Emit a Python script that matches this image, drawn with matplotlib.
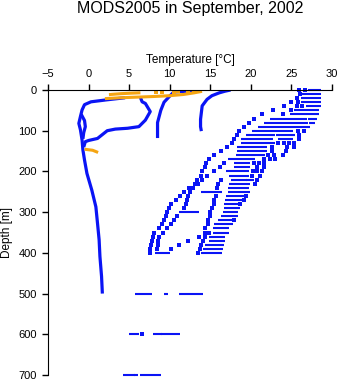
import numpy as np
import matplotlib
matplotlib.use('Agg')
import matplotlib.pyplot as plt

plt.rcParams['font.family'] = ['Liberation Sans', 'DejaVu Sans']

BLUE = '#0a14f5'
ORANGE = '#f5a512'

# continuous cold profiles (temperature degC, depth m)
p1_t = [4.5, 2.3, 0.3, -0.5, -0.8, -1.0, -1.2, -1.0, -0.8, -0.7, -0.5, -0.2, 0.4, 0.9, 1.1, 1.3, 1.4, 1.6, 1.7]
p1_d = [19, 24, 29, 36, 49, 65, 82, 98, 123, 147, 172, 205, 246, 287, 327, 368, 409, 458, 500]
p1b_t = [-0.9, -0.5, -0.4, -0.6, -0.7]
p1b_d = [60, 75, 90, 105, 120]
p2_t = [6.4, 6.6, 7.0, 7.6, 7.0, 6.2, 4.8, 3.3, 2.3, 1.1, 0.0, -0.4, -0.6]
p2_d = [19, 29, 33, 53, 74, 90, 94, 96, 100, 119, 124, 127, 140]
p3_t = [13.5, 12.0, 10.5, 10.0, 9.3, 8.9, 8.5, 8.5, 8.5]
p3_d = [1, 3, 5, 15, 30, 50, 80, 100, 118]
p4_t = [17.5, 16.8, 16.1, 15.2, 14.6, 14.0, 13.8, 13.8, 13.9]
p4_d = [0, 3, 7, 14, 23, 39, 72, 90, 101]

# orange profiles
o1_t = [2.2, 4.0, 6.0, 8.0, 10.0, 11.7, 13.0, 13.8]
o1_d = [21, 19, 17.5, 16, 14, 11, 7, 4]
o2_t = [2.7, 4.0, 5.0, 6.2]
o2_d = [11, 9, 8, 7]
o3_t = [-0.3, 0.5, 1.0]
o3_d = [146, 148, 152]
odots_t = [8.3, 9.0, 10.5, 11.0, 12.2, 13.0, 13.6]
odots_d = [5, 6, 4, 3, 3, 4, 2]

# warm stations at standard levels: runs of close observations and single ones
warm_bars = {
    0: [(27.2, 28.5)], 10: [(26.5, 28.5)], 20: [(26.3, 28.5)], 30: [(26.3, 28.5)],
    40: [(27.0, 28.5)], 50: [(25.5, 28.3)], 60: [(25.0, 28.2)],
    70: [(22.5, 26.8), (27.2, 28.0)], 80: [(21.8, 26.9), (27.3, 27.8)],
    90: [(21.0, 25.5), (25.8, 27.2)], 100: [(20.3, 25.0)],
    110: [(19.6, 22.8), (23.3, 25.3)], 120: [(18.9, 22.6), (23.5, 25.1)],
    130: [(18.9, 22.8)], 140: [(18.5, 21.8)], 150: [(18.5, 21.8)],
    160: [(18.3, 21.6)], 170: [(17.3, 20.4)], 180: [(18.1, 19.8)],
    190: [(18.1, 19.8)], 200: [(17.1, 19.6)], 210: [(17.5, 19.6)],
    220: [(17.7, 19.4), (19.6, 20.2)], 230: [(17.5, 19.8)], 240: [(17.3, 19.6)],
    250: [(14.0, 16.3), (17.3, 19.8)], 260: [(17.1, 19.1)], 270: [(17.0, 18.7)],
    280: [(16.9, 18.5)], 290: [(16.8, 18.5)], 300: [(11.3, 13.4), (16.7, 18.3)],
    310: [(16.5, 18.3)], 320: [(16.1, 17.7)], 330: [(15.6, 17.7)],
    340: [(15.5, 17.2)], 350: [(15.5, 17.1)], 360: [(15.0, 16.7)],
    370: [(15.0, 16.7)], 380: [(14.5, 16.5)], 390: [(14.3, 16.4)],
    400: [(8.3, 9.9), (14.0, 16.3)],
    500: [(5.9, 7.7), (9.4, 9.7), (11.3, 13.9)],
    600: [(5.1, 6.1), (8.1, 8.9), (9.1, 11.1)],
    700: [(4.35, 5.6), (5.7, 6.0), (6.5, 8.8)],
}
warm_dots = {
    0: [25.9, 26.7], 10: [26.0], 20: [25.7], 30: [25.0, 25.8],
    40: [24.1, 25.7, 26.3], 50: [22.7, 24.9], 60: [21.4, 23.9], 70: [20.4],
    80: [19.8], 90: [19.1], 100: [18.6, 25.8, 26.5], 110: [18.3, 25.9],
    120: [17.9, 25.9], 130: [17.7, 23.3, 24.1, 24.7, 25.3],
    140: [17.0, 22.6, 24.4, 25.3], 150: [16.3, 22.6, 24.3],
    160: [15.4, 22.1, 22.8, 23.9], 170: [14.8, 21.6, 22.4, 23.0],
    180: [14.5, 16.7, 20.4, 21.0, 21.6], 190: [14.3, 16.2, 20.7, 21.6],
    200: [14.0, 15.4, 20.3, 20.8, 21.4], 210: [13.8, 14.6, 20.2, 21.1],
    220: [13.4, 14.0, 16.3, 20.8], 230: [13.1, 13.5, 15.9, 20.5],
    240: [12.4, 12.9, 15.8], 250: [11.7, 12.5], 260: [11.3, 12.2, 15.7, 19.4],
    270: [10.8, 12.1, 15.4, 19.1], 280: [10.2, 12.0, 15.4, 18.7],
    290: [9.9, 11.8, 15.2], 300: [9.7, 15.0], 310: [9.6, 10.9, 15.0],
    320: [9.3, 10.5, 14.7, 17.9], 330: [9.0, 10.1, 14.7], 340: [8.7, 9.7, 14.4],
    350: [8.1, 9.2, 14.3, 14.8], 360: [8.0, 8.7, 13.6, 14.3],
    370: [7.8, 8.5, 12.2, 14.1], 380: [7.7, 8.5, 11.1, 13.8],
    390: [7.6, 8.4, 10.2, 13.7], 400: [7.6, 13.5], 600: [6.6],
}

fig = plt.figure(figsize=(3.41, 3.84), dpi=100)
ax = fig.add_axes([48 / 341, 9 / 384, 284 / 341, 285 / 384])

for d, runs in warm_bars.items():
    for t0, t1 in runs:
        ax.hlines(d, t0 - 0.15, t1 + 0.15, color=BLUE, lw=1.5, clip_on=False)
for d, ts in warm_dots.items():
    ax.plot(ts, [d] * len(ts), 's', color=BLUE, ms=2.2, mew=0, clip_on=False)

for t, d in [(p1_t, p1_d), (p1b_t, p1b_d), (p2_t, p2_d), (p3_t, p3_d), (p4_t, p4_d)]:
    ax.plot(t, d, '-', color=BLUE, lw=2.3, solid_capstyle='butt')

for t, d in [(o1_t, o1_d), (o2_t, o2_d), (o3_t, o3_d)]:
    ax.plot(t, d, '-', color=ORANGE, lw=2.2)
ax.plot(odots_t, odots_d, 's', color=ORANGE, ms=2.4, mew=0)

ax.set_xlim(-5, 30)
ax.set_ylim(700, 0)
ax.set_xticks([-5, 0, 5, 10, 15, 20, 25, 30])
ax.set_yticks([0, 100, 200, 300, 400, 500, 600, 700])
ax.xaxis.tick_top()
ax.xaxis.set_label_position('top')
ax.spines['right'].set_visible(False)
ax.spines['bottom'].set_visible(False)
ax.tick_params(direction='out', length=4, width=1, labelsize=8, pad=4)
ax.set_xlabel('Temperature [\u00b0C]', fontsize=8.5, labelpad=4)
ax.set_ylabel('Depth [m]', fontsize=8.5, labelpad=4)

fig.text(190 / 341, 1 - 9 / 384, 'MODS2005 in September, 2002', ha='center', va='center', fontsize=11.5)

plt.savefig('out.png', dpi=100)
